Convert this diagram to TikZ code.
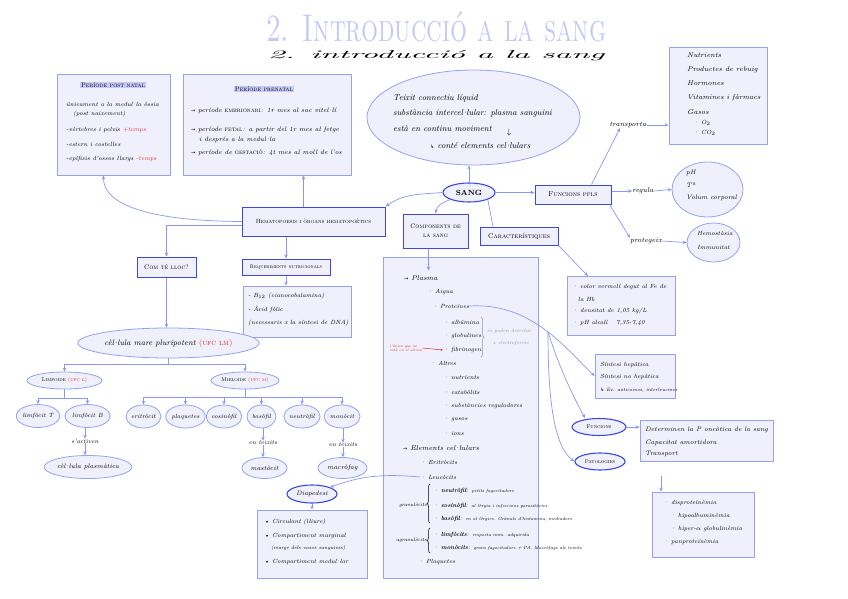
\documentclass[tikz,border=0pt]{standalone}
\usepackage{fontspec}
\newfontfamily\symf{DejaVu Sans}
\usetikzlibrary{shapes.geometric,arrows.meta,calc,decorations.pathreplacing}
\definecolor{lblue}{RGB}{140,150,245}
\definecolor{bbord}{RGB}{150,160,245}
\definecolor{dbord}{RGB}{60,72,225}
\definecolor{bfill}{RGB}{239,240,252}
\definecolor{titleblue}{RGB}{196,201,248}
\definecolor{redt}{RGB}{225,35,35}
\definecolor{greyt}{RGB}{150,150,150}
\newcommand{\fsz}[1]{\fontsize{#1}{#1}\selectfont}
\newcommand{\rar}{{\symf\fsz{5}→}}
\newcommand{\hook}{{\symf\fsz{5}↳}}
\newcommand{\ld}{\kern-.2em·\kern-.2em}
\begin{document}
\begin{tikzpicture}[x=1pt,y=-1pt,
 box/.style={draw=bbord,fill=bfill,line width=0.8pt,inner sep=0pt},
 dbox/.style={box,draw=dbord,line width=1pt},
 ell/.style={ellipse,draw=bbord,fill=bfill,line width=0.8pt,inner sep=0pt},
 dell/.style={ell,draw=dbord,line width=1.1pt},
 t/.style={font={\fsz{6.5}\itshape},inner sep=0pt,anchor=west},
 ts/.style={font={\fsz{6}\itshape},inner sep=0pt,anchor=west},
 tm/.style={font={\fsz{7}\itshape},inner sep=0pt,anchor=west},
 tl/.style={font={\fsz{8.5}\itshape},inner sep=0pt,anchor=west},
 hd/.style={font={\fsz{6.5}\scshape},inner sep=0.6pt},
 ln/.style={draw=lblue,line width=0.7pt},
 arr/.style={ln,-{Stealth[length=4pt,width=3.5pt]}},
]
\useasboundingbox (0,0) rectangle (848,599);

% title
\node[anchor=base west,inner sep=0pt,text=titleblue] (title) at (266,42) {\resizebox{340pt}{30pt}{\scshape 2. Introducció a la sang}};
\node[anchor=base west,inner sep=0pt] (title2) at (268,59) {\resizebox{336pt}{8pt}{\itshape 2. introducció a la sang}};

% post natal
\node[box,minimum width=113,minimum height=101] (post) at (113.5,124.5) {};
\node[hd,fill=titleblue] (posth) at (113,85) {Període post natal};
\node[ts] (post1) at (66,104) {únicament a la medul\ld la òssia};
\node[ts] (post2) at (73,114) {(post naixement)};
\node[ts] (post3) at (66,130) {-vèrtebres i pelvis \textcolor{redt}{+temps}};
\node[ts] (post4) at (66,144) {-estern i costelles};
\node[ts] (post5) at (66,159) {-epífisis d'ossos llargs \textcolor{redt}{-temps}};

% prenatal
\node[box,minimum width=168,minimum height=101] (pre) at (267,124.5) {};
\node[hd,fill=titleblue] (preh) at (264,89) {Període prenatal};
\node[t] (pre1) at (191,111) {\rar\ període \textup{\textsc{embrionari}}: 1r mes al sac vitel\ld lí};
\node[t] (pre2) at (191,130) {\rar\ període \textup{\textsc{fetal}}: a partir del 1r mes al fetge};
\node[t] (pre3) at (199,140) {i després a la medul\ld la};
\node[t] (pre4) at (191,153) {\rar\ període de \textup{\textsc{gestació}}: 4t mes al moll de l'os};

% central ellipse
\node[ell,minimum width=213,minimum height=95] (bigell) at (473.5,117.5) {};
\node[tl] (e1) at (393,98) {Teixit connectiu líquid};
\node[tl] (e2) at (393,113) {substància intercel\ld lular: plasma sanguini};
\node[tl] (e3) at (393,129) {està en continu moviment};
\node[tl,anchor=center] (e3a) at (509,133) {$\downarrow$};
\node[tl] (e4) at (430,146) {\hook\ conté elements cel\ld lulars};

% sang
\node[dell,minimum width=52,minimum height=19,font={\fsz{7.5}\bfseries}] (sang) at (469,192.5) {SANG};

% funcions ppls
\node[dbox,minimum width=76,minimum height=19,font={\fsz{7}\scshape}] (fppls) at (573,194.5) {Funcions ppls};
\node[tm,anchor=center] (transp) at (628,125) {transporta};
\node[box,minimum width=98,minimum height=97] (nutr) at (718,95.5) {};
\node[tm] (n1) at (687,55) {Nutrients};
\node[tm] (n2) at (687,70) {Productes de rebuig};
\node[tm] (n3) at (687,83) {Hormones};
\node[tm] (n4) at (687,98) {Vitamines i fàrmacs};
\node[tm] (n5) at (687,112) {Gasos};
\node[ts] (n6) at (693,123) {· O$_2$};
\node[ts] (n7) at (693,133) {· CO$_2$};

\node[tm,anchor=center] (regula) at (643,191) {regula};
\node[ell,minimum width=71,minimum height=55] (regell) at (707.5,189.5) {};
\node[t] (r1) at (686,173) {pH};
\node[t] (r2) at (686,185) {Tª};
\node[t] (r3) at (686,198) {Volum corporal};

\node[tm,anchor=center] (protg) at (646,241) {protegeix};
\node[ell,minimum width=53,minimum height=39] (protell) at (713.5,242.5) {};
\node[ts] (p1) at (697,233) {Hemostàsia};
\node[ts] (p2) at (697,247) {Immunitat};

% caracteristiques
\node[dbox,minimum width=78,minimum height=18,font={\fsz{7}\scshape}] (carac) at (519,236) {Característiques};
\node[box,minimum width=108,minimum height=59] (charb) at (621,306) {};
\node[ts] (c1) at (572,287) {· color vermell degut al Fe de};
\node[ts] (c2) at (578,299) {la Hb};
\node[ts] (c3) at (572,311) {· densitat de 1,05 kg/L};
\node[ts] (c4) at (572,323) {· pH alcalí \quad 7,35-7,40};

% components
\node[dbox,minimum width=65,minimum height=34,font={\fsz{6.5}\scshape},align=center] (comp) at (435.5,231) {Components de\\[3pt]la sang};
\node[box,minimum width=155,minimum height=321] (big) at (460.5,417.5) {};

% hematopoesis
\node[dbox,minimum width=143,minimum height=29,font={\fsz{6}\scshape}] (hema) at (313.5,221.5) {Hematopoesis i òrgans hematopoètics};
\node[dbox,minimum width=59,minimum height=20,font={\fsz{6.5}\scshape}] (com) at (166.5,267) {Com té lloc?};
\node[dbox,minimum width=88,minimum height=16,font={\fsz{5.2}\scshape}] (req) at (286,267) {Requeriments nutricionals};
\node[box,minimum width=108,minimum height=51] (nutb) at (297,311.5) {};
\node[ts] (q1) at (248,296) {- B$_{12}$ (cianocobalamina)};
\node[ts] (q2) at (248,309) {- Àcid fòlic};
\node[ts] (q3) at (248,323) {(necessaris x la síntesi de DNA)};

% cell tree
\node[ell,minimum width=159,minimum height=30,font={\fsz{8}\itshape}] (cm) at (168.5,343) {cèl\ld lula mare pluripotent \textcolor{redt}{\textup{\textsc{(ufc lm)}}}};
\node[ell,minimum width=75,minimum height=17,font={\fsz{5.5}\scshape}] (limf) at (64.5,380.5) {Limfoide \textcolor{redt}{(ufc l)}};
\node[ell,minimum width=68,minimum height=17,font={\fsz{5.5}\scshape}] (miel) at (245,380.5) {Mieloide \textcolor{redt}{(ufc m)}};
\node[ell,minimum width=42,minimum height=23,font={\fsz{6}\itshape}] (lT) at (38,416) {limfòcit T};
\node[ell,minimum width=45,minimum height=23,font={\fsz{6}\itshape}] (lB) at (87.5,416) {limfòcit B};
\node[ell,minimum width=32,minimum height=23,font={\fsz{6}\itshape}] (ery) at (143.5,416.5) {eritròcit};
\node[ell,minimum width=37,minimum height=23,font={\fsz{6}\itshape}] (plaq) at (185.5,416.5) {plaquetes};
\node[ell,minimum width=30,minimum height=23,font={\fsz{6}\itshape}] (eos) at (224,416.5) {eosinòfil};
\node[ell,minimum width=29,minimum height=23,font={\fsz{6}\itshape}] (bas) at (261.5,416.5) {basòfil};
\node[ell,minimum width=30,minimum height=23,font={\fsz{6}\itshape}] (neu) at (302,416.5) {neutròfil};
\node[ell,minimum width=36,minimum height=23,font={\fsz{6}\itshape}] (mon) at (342,416.5) {monòcit};
\node[ts,anchor=center] (sact) at (85,441) {s'activen};
\node[ell,minimum width=80,minimum height=23,font={\fsz{6.5}\itshape}] (cplasm) at (88,467) {cèl\ld lula plasmàtica};
\node[ts,anchor=center] (ent1) at (263,443) {en teixits};
\node[ell,minimum width=45,minimum height=21,font={\fsz{6.5}\itshape}] (mast) at (264.5,468) {mastòcit};
\node[ts,anchor=center] (ent2) at (343,445) {en teixits};
\node[ell,minimum width=49,minimum height=21,font={\fsz{6.5}\itshape}] (macr) at (342.5,468) {macròfag};

% diapedesi
\node[dell,minimum width=50,minimum height=18,font={\fsz{6.5}\itshape}] (diap) at (312,494) {Diapedesi};
\node[box,minimum width=110,minimum height=68] (diapb) at (312,544) {};
\node[ts] (d1) at (264,522) {\textbullet\ Circulant (lliure)};
\node[ts] (d2) at (264,536) {\textbullet\ Compartiment marginal};
\node[ts,font={\fsz{5}\itshape}] (d3) at (271,548) {(marge dels vasos sanguinis)};
\node[ts] (d4) at (264,562) {\textbullet\ Compartiment medul\ld lar};

% big box content
\node[tm] (b1) at (404,278) {\rar\ Plasma};
\node[ts] (b2) at (427,292) {· Aigua};
\node[ts] (b3) at (432,306) {· Proteïnes};
\node[ts] (b4) at (443,322) {· albúmina};
\node[ts] (b5) at (443,336) {· globulines};
\node[ts] (b6) at (443,350) {· fibrinogen};
\node[inner sep=0pt,font={\fsz{3.8}\itshape},text=redt,align=left] (redn) at (406,348) {l'única que no\\està en el sèrum};
\draw[redt,line width=0.5pt,-{Stealth[length=2.5pt]}] (redn.east) -- (b6.west);
\draw[greyt,line width=0.5pt,decorate,decoration={brace,amplitude=3pt}] (481,317) -- (481,357);
\node[ts,font={\fsz{5}\itshape},text=greyt] (gr1) at (487,331) {es poden detectar};
\node[ts,font={\fsz{5}\itshape},text=greyt] (gr2) at (493,343) {x electroforesi};
\node[ts] (b7) at (430,363) {· Altres};
\node[ts] (b8) at (443,378) {· nutrients};
\node[ts] (b9) at (443,392) {· catabòlits};
\node[ts] (b10) at (443,406) {· substàncies reguladores};
\node[ts] (b11) at (443,420) {· gasos};
\node[ts] (b12) at (443,434) {· ions};
\node[tm] (b13) at (403,448) {\rar\ Elements cel\ld lulars};
\node[ts] (b14) at (420,462) {· Eritròcits};
\node[ts] (b15) at (420,477) {· Leucòcits};
\draw[black,line width=0.5pt,decorate,decoration={brace,amplitude=3pt}] (430,523) -- (430,484);
\node[ts,font={\fsz{5}\itshape},anchor=east] (glab) at (427,505) {granulòcits};
\node[ts] (b16) at (433,491) {· \textbf{neutròfil}: {\fsz{4.5}petits fagocitadors}};
\node[ts] (b17) at (433,506) {· \textbf{eosinòfil}: {\fsz{4.5}al\ld lèrgia i infeccions parasitàries}};
\node[ts] (b18) at (433,519) {· \textbf{basòfil}: {\fsz{4.5}en al\ld lèrgies. Grànuls d'histamina, mediadors}};
\draw[black,line width=0.5pt,decorate,decoration={brace,amplitude=3pt}] (430,553) -- (430,528);
\node[ts,font={\fsz{5}\itshape},anchor=east] (alab) at (427,540) {agranulòcits};
\node[ts] (b19) at (433,535) {· \textbf{limfòcits}: {\fsz{4.5}resposta imm. adquirida}};
\node[ts] (b20) at (433,548) {· \textbf{monòcits}: {\fsz{4.5}grans fagocitadors + PA. Macròfags als teixits}};
\node[ts] (b21) at (418,562) {· Plaquetes};

% proteins branch
\node[box,minimum width=80,minimum height=44] (sint) at (635,376) {};
\node[ts] (s1) at (600,365) {Síntesi hepàtica};
\node[ts] (s2) at (600,377) {Síntesi no hepàtica};
\node[ts,font={\fsz{4.8}\itshape}] (s3) at (600,390) {\hook\ Ex: anticossos, interleucines};
\node[dell,minimum width=54,minimum height=17,font={\fsz{5.5}\scshape}] (func) at (599,427) {Funcions};
\node[dell,minimum width=50,minimum height=17,font={\fsz{5.5}\scshape}] (pat) at (600,461.5) {Patologies};
\node[box,minimum width=133,minimum height=41] (funcb) at (706.5,440.5) {};
\node[t] (f1) at (645,430) {Determinen la P oncòtica de la sang};
\node[t] (f2) at (645,443) {Capacitat amortidora};
\node[t] (f3) at (645,454) {Transport};
\node[box,minimum width=102,minimum height=65] (patb) at (703,524.5) {};
\node[ts] (pb1) at (663,503) {· disproteïnèmia};
\node[ts] (pb2) at (670,516) {· hipoalbuminèmia};
\node[ts] (pb3) at (670,529) {· hiper-$\alpha$ globulinèmia};
\node[ts] (pb4) at (663,542) {· panproteïnèmia};
\coordinate (patc) at (661,476);

% connectors
\draw[arr] (sang.north) -- (sang.north |- bigell.south);
\draw[arr] (sang.east) -- (sang.east -| fppls.west);
\draw[arr] ([xshift=-20pt]fppls.north east) -- ([xshift=-8pt]transp.south);
\draw[arr] (transp.east) -- (transp.east -| nutr.west);
\draw[arr] (regula.west -| fppls.east) -- (regula.west);
\draw[arr] (regula.east) -- (regell.west);
\draw[arr] ([xshift=-2pt]fppls.south east) -- (protg.north west);
\draw[arr] (protg.east) -- (protell.west);
\draw[ln] (sang.south east) -- ([xshift=-26pt]carac.north);
\draw[arr] (carac.south east) -- ([xshift=-33pt]charb.north);
\draw[arr] (sang.south west) to[out=200,in=80] (comp.north);
\draw[arr] ([xshift=-7pt]comp.south) -- ++(0,22);
\draw[arr] (sang.west) to[out=185,in=35] (hema.north east);
\draw[arr] ([xshift=-10pt]hema.north) -- ([xshift=-10pt]hema.north |- pre.south);
\draw[arr] (hema.west) .. controls (150,221) and (103,205) .. ([xshift=-10pt]post.south);
\draw[arr] ($(hema.west)+(0,3.5)$) -| (com.north);
\draw[arr] (req.north |- hema.south) -- (req.north);
\draw[arr] (req.south) -- (req.south |- nutb.north);
\draw[arr] (com.south) -- (com.south |- cm.north);
\draw[ln] (cm.south) -- ++(0,6) coordinate (j1);
\draw[arr] (j1) -| (limf.north);
\draw[arr] (j1) -| (miel.north);
\draw[ln] (limf.south) -- ++(0,9) coordinate (j2);
\draw[arr] (j2) -| (lT.north);
\draw[arr] (j2) -| (lB.north);
\draw[ln] (miel.south) -- ++(0,8) coordinate (j3);
\foreach \n in {ery,plaq,eos,bas,neu,mon} {\draw[arr] (j3) -| (\n.north);}
\draw[arr] (sact.north |- lB.south) -- (sact.north);
\draw[arr] (sact.south) -- (sact.south |- cplasm.north);
\draw[arr] (ent1.north |- bas.south) -- (ent1.north);
\draw[arr] (ent1.south) -- (ent1.south |- mast.north);
\draw[arr] (ent2.north |- mon.south) -- (ent2.north);
\draw[arr] (ent2.south) -- (ent2.south |- macr.north);
\draw[arr] (b15.west) to[out=175,in=20] (diap.north east);
\draw[arr] (diap.south) -- (diapb.north);
\draw[ln] (b3.east) .. controls (505,304) and (530,318) .. (548,332) coordinate (fan);
\draw[arr] (fan) .. controls (565,345) and (580,362) .. (sint.west);
\draw[arr] (fan) .. controls (560,370) and (575,400) .. ([xshift=-14pt]func.north);
\draw[arr] (fan) .. controls (548,390) and (552,445) .. (pat.west);
\draw[arr] (func.east) -- (func.east -| funcb.west);
\draw[arr] (patc) -- (patc |- patb.north);
\end{tikzpicture}
\end{document}
